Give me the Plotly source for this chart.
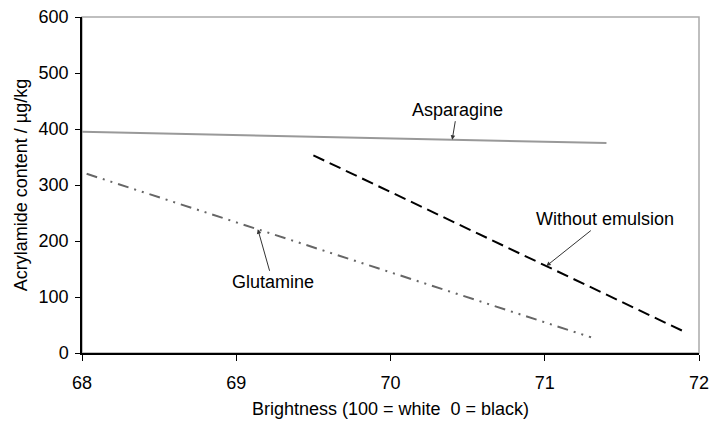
import plotly.graph_objects as go

# Data
asparagine_x = [68.0, 71.4]
asparagine_y = [395, 375]
without_x = [69.5, 71.89]
without_y = [353, 40]
glutamine_x = [68.03, 71.3]
glutamine_y = [320, 28]

x_ticks = [68, 69, 70, 71, 72]
y_ticks = [0, 100, 200, 300, 400, 500, 600]

FONT = "Liberation Sans, Arial, sans-serif"
FS = 18

fig = go.Figure()
fig.add_trace(go.Scatter(x=asparagine_x, y=asparagine_y, mode="lines",
                         line=dict(color="#999999", width=2), showlegend=False))
fig.add_trace(go.Scatter(x=without_x, y=without_y, mode="lines",
                         line=dict(color="#000000", width=2, dash="12px,6px"), showlegend=False))
fig.add_trace(go.Scatter(x=glutamine_x, y=glutamine_y, mode="lines",
                         line=dict(color="#666666", width=2, dash="11px,6px,2px,6px,2px,6px"),
                         showlegend=False))

def interp(xs, ys, x):
    return ys[0] + (ys[1] - ys[0]) * (x - xs[0]) / (xs[1] - xs[0])

ann_common = dict(showarrow=True, arrowhead=2, arrowsize=0.9, arrowwidth=1,
                  arrowcolor="#333333", font=dict(size=FS, color="#000000", family=FONT))
fig.add_annotation(x=70.4, y=interp(asparagine_x, asparagine_y, 70.4), text="Asparagine",
                   ax=5, ay=-30, **ann_common)
fig.add_annotation(x=71.01, y=interp(without_x, without_y, 71.01), text="Without emulsion",
                   ax=59, ay=-47, **ann_common)
fig.add_annotation(x=69.14, y=interp(glutamine_x, glutamine_y, 69.14), text="Glutamine",
                   ax=15, ay=53, **ann_common)

fig.add_shape(type="rect", xref="paper", yref="paper", x0=0, x1=1, y0=0, y1=1,
              line=dict(color="#aaaaaa", width=1.5), layer="below")

fig.update_layout(
    width=710, height=423,
    margin=dict(l=82, r=11, t=17, b=70),
    paper_bgcolor="white", plot_bgcolor="white",
    font=dict(family=FONT, size=FS, color="#000000"),
    xaxis=dict(range=[68, 72], tickvals=x_ticks, showgrid=False, zeroline=False,
               showline=True, linecolor="black", linewidth=1.5,
               ticks="outside", ticklen=6, tickcolor="black",
               ticklabelstandoff=7, automargin=False,
               title=dict(text="Brightness (100 = white  0 = black)", standoff=10,
                          font=dict(size=FS))),
    yaxis=dict(range=[0, 600], tickvals=y_ticks, showgrid=False, zeroline=False,
               showline=True, linecolor="black", linewidth=1.5,
               ticks="outside", ticklen=5, tickcolor="black",
               ticklabelstandoff=3, automargin=False,
               title=dict(text="Acrylamide content / µg/kg", standoff=6,
                          font=dict(size=FS))),
)

fig.write_html("out.html")
